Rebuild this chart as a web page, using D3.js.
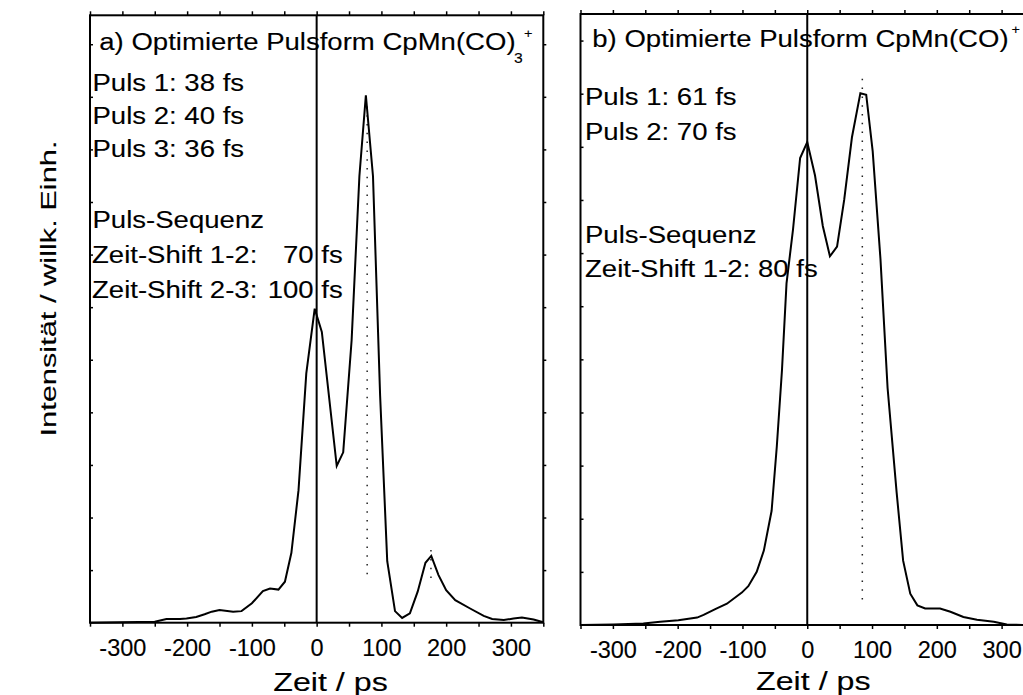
<!DOCTYPE html>
<html>
<head>
<meta charset="utf-8">
<script src="https://cdn.jsdelivr.net/npm/d3@7"></script>
<style>
  html, body { margin: 0; padding: 0; background: #fff; }
  svg { display: block; }
  text { font-family: "Liberation Sans", Arial, Helvetica, sans-serif; fill: #000; stroke: #000; stroke-width: 0.12px; }
</style>
</head>
<body>
<svg id="chart" width="1023" height="695"></svg>
<script>
// Panel a: CpMn(CO)3+ optimised pulse shape — time (fs) and intensity (arb. units)
const timeA = [-350, -300, -250, -232, -211, -201, -186, -173, -162, -150, -129, -116, -100, -83, -72, -59, -49, -39, -28, -16, -3, 8, 31, 41, 54, 66, 76, 87, 98, 109, 121, 132, 144, 156, 168, 177, 188, 200, 214, 237, 258, 271, 289, 304, 317, 335, 350];
const signalA = [0, 0.01, 0.02, 0.07, 0.07, 0.08, 0.11, 0.16, 0.21, 0.24, 0.21, 0.22, 0.37, 0.60, 0.65, 0.63, 0.78, 1.33, 2.52, 4.74, 5.97, 5.53, 2.98, 3.24, 5.37, 8.49, 10.03, 8.49, 4.32, 1.17, 0.22, 0.09, 0.18, 0.59, 1.14, 1.27, 0.91, 0.62, 0.43, 0.27, 0.13, 0.07, 0.05, 0.08, 0.10, 0.06, 0.01];

// Panel b: CpMn(CO)+ optimised pulse shape
const timeB = [-350, -299, -253, -227, -199, -170, -160, -142, -124, -101, -91, -78, -67, -55, -47, -39, -32, -22, -11, 0, 12, 24, 35, 46, 57, 69, 82, 91, 101, 113, 124, 138, 148, 159, 170, 182, 205, 221, 241, 262, 288, 308, 333, 350];
const signalB = [0, 0.01, 0.03, 0.06, 0.09, 0.14, 0.19, 0.30, 0.40, 0.61, 0.73, 1.00, 1.40, 2.15, 3.36, 4.80, 6.43, 7.44, 8.79, 9.09, 8.46, 7.51, 6.94, 7.12, 8.00, 9.18, 10.01, 9.98, 8.92, 6.89, 4.46, 2.49, 1.21, 0.59, 0.37, 0.31, 0.31, 0.25, 0.15, 0.10, 0.06, 0.01, 0, 0];

// dotted peak markers: time, lower and upper intensity
const markerTimeA = [78, 176.5];
const markerLowA = [0.92, 0.85];
const markerHighA = [9.85, 1.40];
const markerTimeB = [85];
const markerLowB = [0.48];
const markerHighB = [10.3];

// axis ticks
const xLabelTicks = [-300, -200, -100, 0, 100, 200, 300];
const xAllTicks = d3.range(-350, 351, 50);
const yTicks = d3.range(1, 12);

// texts
const titleMain = ["a) Optimierte Pulsform CpMn(CO)", "b) Optimierte Pulsform CpMn(CO)"];
const titleSub = ["3", ""];
const titleSup = ["+", "+"];
const pulsesA = ["Puls 1: 38 fs", "Puls 2: 40 fs", "Puls 3: 36 fs"];
const pulsesB = ["Puls 1: 61 fs", "Puls 2: 70 fs"];
const seqHeading = "Puls-Sequenz";
const shiftLabelsA = ["Zeit-Shift 1-2:", "Zeit-Shift 2-3:"];
const shiftValuesA = ["70 fs", "100 fs"];
const shiftLinesB = ["Zeit-Shift 1-2: 80 fs"];
const xTitle = "Zeit / ps";
const yTitle = "Intensität / willk. Einh.";

const svg = d3.select("#chart");
const SX = 1.12;        // horizontal stretch of the annotation font
const FS = 24.6;

function stretched(g, x, y, str, size, sx, anchor) {
  return g.append("text")
    .attr("transform", `translate(${x},${y}) scale(${sx},1)`)
    .attr("font-size", size)
    .attr("text-anchor", anchor || "start")
    .text(str);
}

function drawPanel(cfg) {
  const g = svg.append("g");
  const x = d3.scaleLinear().domain([-350, 350]).range([cfg.left, cfg.right]);
  const y = d3.scaleLinear().domain([0, cfg.yMax]).range([cfg.bottom, cfg.top]);

  // bottom axis with labels
  const bottom = g.append("g").attr("transform", `translate(0,${cfg.bottom})`)
    .call(d3.axisBottom(x).tickValues(xAllTicks).tickSize(4).tickSizeOuter(0)
      .tickFormat(d => xLabelTicks.includes(d) ? String(d) : ""));
  bottom.selectAll("text").attr("y", 33).attr("dy", null)
    .attr("font-size", 23.5).attr("font-family", null).attr("fill", "#000");

  g.append("g").attr("transform", `translate(0,${cfg.top})`)
    .call(d3.axisTop(x).tickValues(xAllTicks).tickSize(4).tickSizeOuter(0).tickFormat(""));
  g.append("g").attr("transform", `translate(${cfg.left},0)`)
    .call(d3.axisLeft(y).tickValues(yTicks).tickSize(-3).tickSizeOuter(0).tickFormat(""));
  g.append("g").attr("transform", `translate(${cfg.right},0)`)
    .call(d3.axisRight(y).tickValues(yTicks).tickSize(3).tickSizeOuter(0).tickFormat(""));

  g.selectAll(".domain").remove();
  g.selectAll(".tick line").attr("stroke", "#000").attr("stroke-width", 1.5);

  // frame
  g.append("rect")
    .attr("x", cfg.left).attr("y", cfg.top)
    .attr("width", cfg.right - cfg.left).attr("height", cfg.bottom - cfg.top)
    .attr("fill", "none").attr("stroke", "#000").attr("stroke-width", 2);

  // zero-time line
  g.append("line")
    .attr("x1", x(0)).attr("x2", x(0)).attr("y1", cfg.top).attr("y2", cfg.bottom)
    .attr("stroke", "#000").attr("stroke-width", 2);

  // dotted peak markers
  cfg.markT.forEach((t, i) => {
    g.append("line")
      .attr("x1", x(t)).attr("x2", x(t))
      .attr("y1", y(cfg.markLo[i])).attr("y2", y(cfg.markHi[i]))
      .attr("stroke", "#222").attr("stroke-width", 1.5)
      .attr("stroke-dasharray", "1.5 7.3");
  });

  // signal
  const pts = cfg.t.map((t, i) => [t, cfg.v[i]]);
  g.append("path")
    .datum(pts)
    .attr("fill", "none").attr("stroke", "#000").attr("stroke-width", 2)
    .attr("stroke-linejoin", "miter")
    .attr("d", d3.line().x(d => x(d[0])).y(d => y(d[1])));

  // title with sub/superscript
  const tMain = stretched(g, cfg.titleX, cfg.titleY, cfg.title, FS, SX);
  const end = cfg.titleX + tMain.node().getComputedTextLength() * SX;
  let supX = end + 3;
  if (cfg.sub) {
    stretched(g, end - 1.5, cfg.titleY + 13.3, cfg.sub, 14, SX);
    supX = end + 8.5;
  }
  stretched(g, supX, cfg.titleY - 12.5, cfg.sup, 13, SX);

  // x-axis title
  stretched(g, cfg.xTitleX, cfg.xTitleY, xTitle, 26, 1.24, "middle");
  return g;
}

const gA = drawPanel({
  left: 90, right: 543.3, top: 15.3, bottom: 622.7, yMax: 11.55,
  t: timeA, v: signalA, markT: markerTimeA, markLo: markerLowA, markHi: markerHighA,
  title: titleMain[0], sub: titleSub[0], sup: titleSup[0], titleX: 99.3, titleY: 50,
  xTitleX: 330.5, xTitleY: 690.5
});
const gB = drawPanel({
  left: 580.5, right: 1034, top: 14, bottom: 625, yMax: 11.5,
  t: timeB, v: signalB, markT: markerTimeB, markLo: markerLowB, markHi: markerHighB,
  title: titleMain[1], sub: titleSub[1], sup: titleSup[1], titleX: 592.3, titleY: 46.7,
  xTitleX: 813.3, xTitleY: 689.5
});

// panel a annotations
pulsesA.forEach((s, i) => stretched(gA, 92.5, 90.7 + i * 33.3, s, FS, SX));
stretched(gA, 92.5, 228, seqHeading, FS, SX);
shiftLabelsA.forEach((s, i) => {
  stretched(gA, 92, 263.3 + i * 35, s, FS, SX);
  stretched(gA, 342.7, 263.3 + i * 35, shiftValuesA[i], FS, SX, "end");
});

// panel b annotations
pulsesB.forEach((s, i) => stretched(gB, 585, 105 + i * 35, s, FS, SX));
stretched(gB, 585, 243.3, seqHeading, FS, SX);
shiftLinesB.forEach((s, i) => stretched(gB, 585, 277.3 + i * 35, s, FS, SX));

// shared y-axis title
svg.append("text")
  .attr("transform", "translate(56,288.5) rotate(-90) scale(1.40,1)")
  .attr("font-size", 22)
  .attr("text-anchor", "middle")
  .text(yTitle);
</script>
</body>
</html>
